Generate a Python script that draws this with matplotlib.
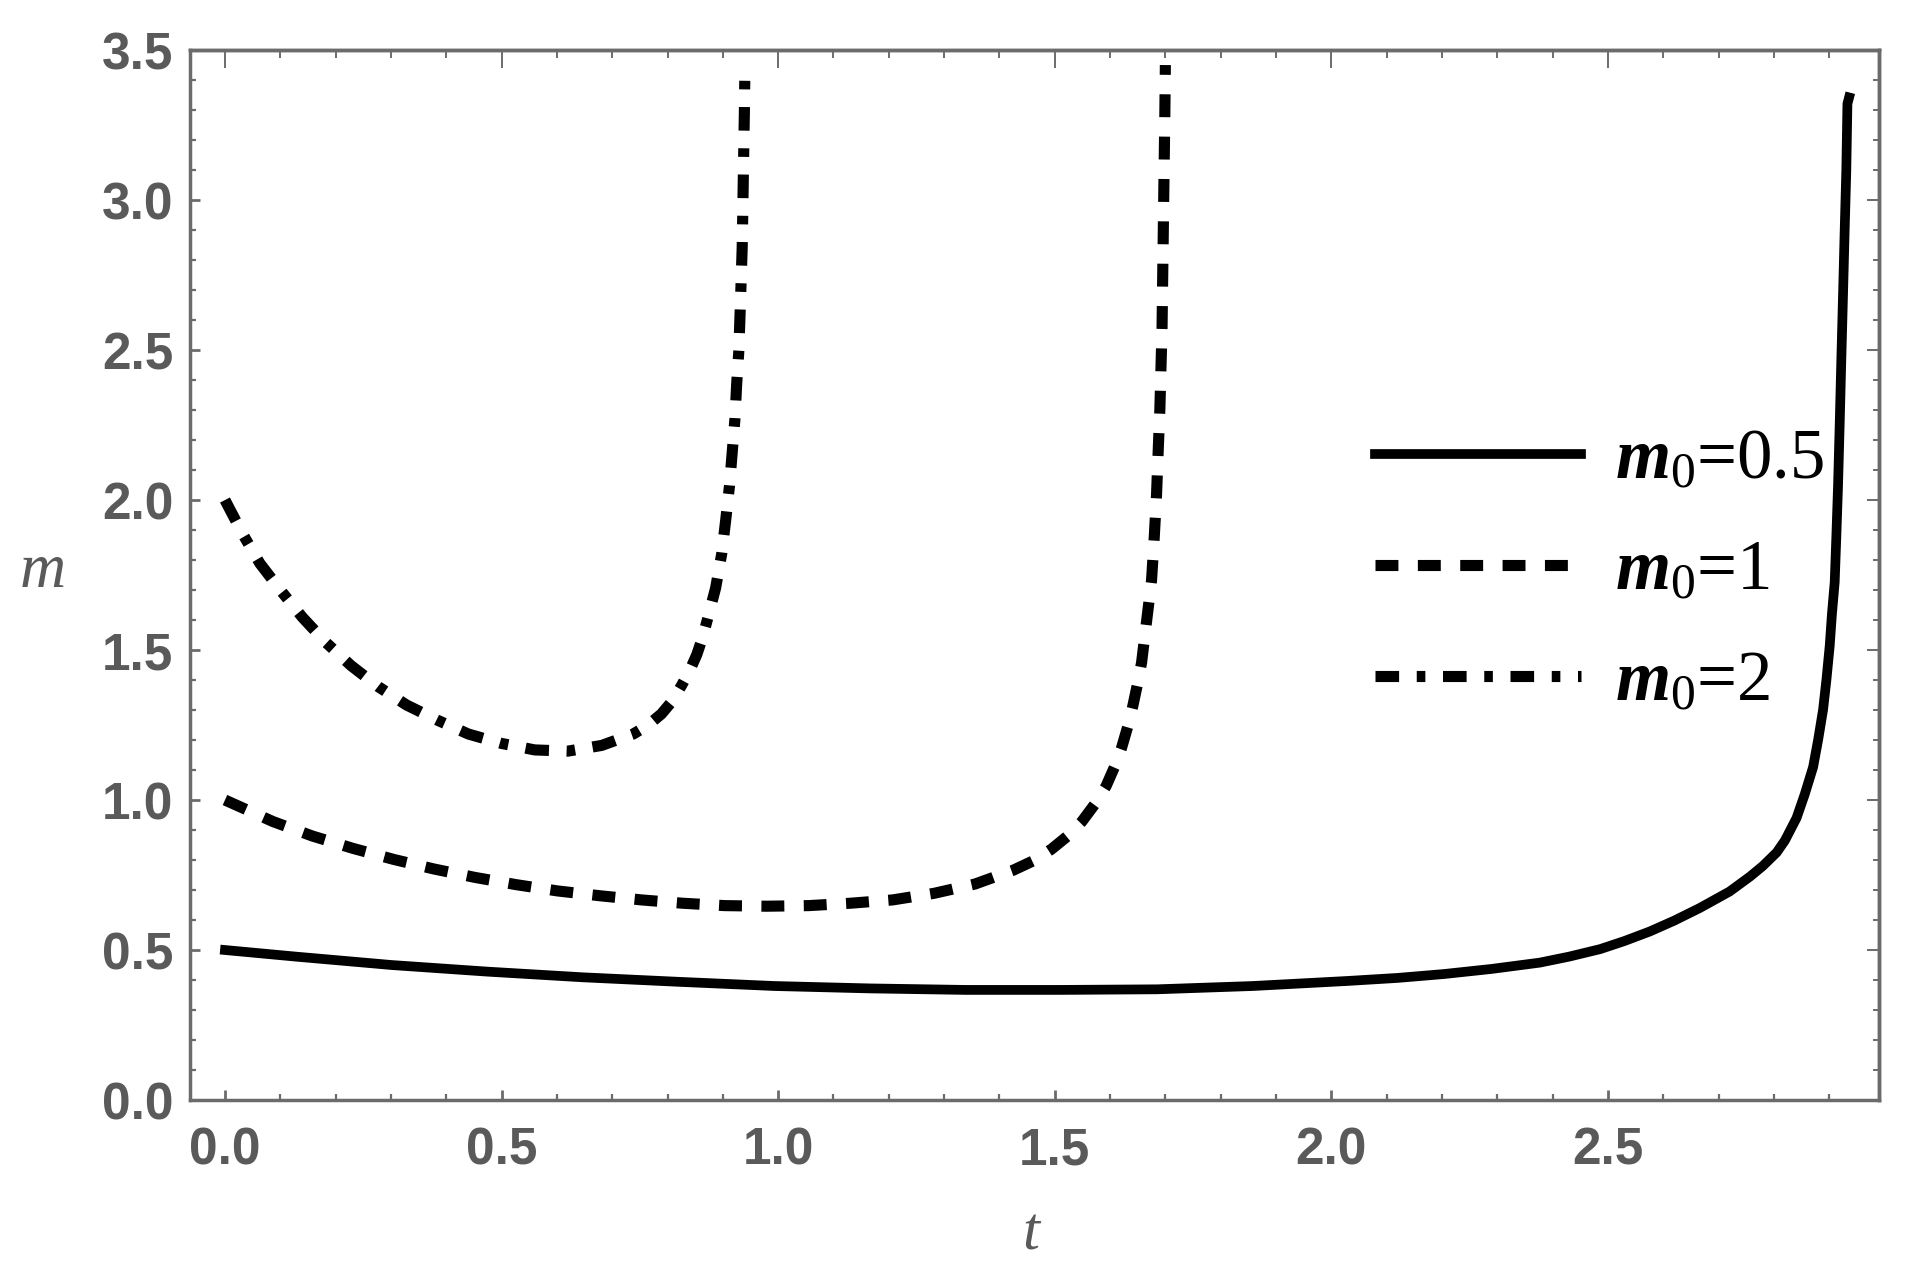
import matplotlib
matplotlib.use("Agg")
import matplotlib.pyplot as plt
from matplotlib.ticker import MultipleLocator, FormatStrFormatter

# values
t_05 = [0.0, 0.128, 0.301, 0.474, 0.647, 0.820, 0.993, 1.166, 1.339, 1.512,
        1.685, 1.858, 2.031, 2.120, 2.204, 2.290, 2.377, 2.430, 2.486, 2.530,
        2.576, 2.620, 2.666, 2.720, 2.757, 2.780, 2.805, 2.820, 2.841, 2.856,
        2.871, 2.880, 2.889, 2.895, 2.901, 2.905, 2.910, 2.913, 2.916, 2.919,
        2.922, 2.925, 2.928, 2.931, 2.933, 2.936]
m_05 = [0.50, 0.478, 0.450, 0.428, 0.409, 0.394, 0.380, 0.372, 0.367, 0.367,
        0.369, 0.380, 0.397, 0.407, 0.420, 0.437, 0.458, 0.478, 0.503, 0.530,
        0.562, 0.598, 0.640, 0.695, 0.745, 0.780, 0.825, 0.865, 0.940, 1.020,
        1.110, 1.200, 1.301, 1.400, 1.514, 1.620, 1.726, 1.880, 2.045, 2.250,
        2.470, 2.680, 2.896, 3.100, 3.321, 3.342]

t_1 = [0.0, 0.087, 0.158, 0.231, 0.305, 0.378, 0.452, 0.526, 0.601, 0.677,
       0.753, 0.827, 0.903, 0.979, 1.055, 1.131, 1.207, 1.282, 1.356, 1.425,
       1.462, 1.494, 1.522, 1.549, 1.572, 1.593, 1.608, 1.621, 1.632, 1.641,
       1.650, 1.657, 1.666, 1.675, 1.680, 1.684, 1.687, 1.690, 1.692, 1.694,
       1.695, 1.696, 1.697, 1.698, 1.699, 1.700]
m_1 = [1.0, 0.928, 0.880, 0.839, 0.802, 0.770, 0.742, 0.718, 0.697, 0.681,
       0.667, 0.656, 0.648, 0.646, 0.648, 0.656, 0.667, 0.689, 0.720, 0.766,
       0.798, 0.836, 0.878, 0.928, 0.985, 1.047, 1.110, 1.175, 1.245, 1.312,
       1.390, 1.458, 1.595, 1.732, 1.879, 2.016, 2.162, 2.299, 2.436, 2.573,
       2.720, 2.857, 3.003, 3.140, 3.277, 3.450]

t_2 = [0.0, 0.032, 0.063, 0.101, 0.140, 0.182, 0.228, 0.277, 0.328, 0.383,
       0.440, 0.499, 0.560, 0.620, 0.681, 0.738, 0.765, 0.789, 0.810, 0.826,
       0.841, 0.853, 0.863, 0.871, 0.887, 0.898, 0.905, 0.912, 0.917, 0.922,
       0.925, 0.929, 0.931, 0.933, 0.935, 0.936, 0.937, 0.938, 0.939, 0.940]
m_2 = [2.0, 1.887, 1.789, 1.698, 1.609, 1.526, 1.448, 1.378, 1.317, 1.267,
       1.220, 1.189, 1.167, 1.163, 1.182, 1.220, 1.250, 1.287, 1.333, 1.384,
       1.435, 1.485, 1.540, 1.594, 1.707, 1.821, 1.930, 2.047, 2.160, 2.273,
       2.386, 2.499, 2.612, 2.725, 2.842, 2.952, 3.073, 3.186, 3.299, 3.450]

labels = [r'$m_0$=0.5', r'$m_0$=1', r'$m_0$=2']

plt.rcParams['mathtext.fontset'] = 'custom'
plt.rcParams['mathtext.it'] = 'Liberation Serif:italic:bold'
plt.rcParams['mathtext.rm'] = 'Liberation Serif'
plt.rcParams['lines.scale_dashes'] = False

frame_col = '#6b6b6b'
text_col = '#5a5a5a'

fig = plt.figure(figsize=(19.13, 12.77), dpi=100)
ax = fig.add_axes([0.0993, 0.1386, 0.8829, 0.8222])

ax.plot(t_05, m_05, color='black', lw=7, solid_joinstyle='round', label=labels[0])
ax.plot(t_1, m_1, color='black', lw=8, dashes=(16.5, 14), dash_capstyle='butt',
        label=labels[1])
ax.plot(t_2, m_2, color='black', lw=8, dashes=(17, 12.7, 6.2, 12.7),
        dash_capstyle='butt', label=labels[2])

ax.set_xlim(-0.0633, 2.990)
ax.set_ylim(0, 3.5)

for sp in ax.spines.values():
    sp.set_color(frame_col)
    sp.set_linewidth(2.5)

ax.xaxis.set_major_locator(MultipleLocator(0.5))
ax.xaxis.set_minor_locator(MultipleLocator(0.1))
ax.yaxis.set_major_locator(MultipleLocator(0.5))
ax.yaxis.set_minor_locator(MultipleLocator(0.1))
ax.xaxis.set_major_formatter(FormatStrFormatter('%.1f'))
ax.yaxis.set_major_formatter(FormatStrFormatter('%.1f'))

ax.tick_params(which='both', direction='in', color=frame_col, labelcolor=text_col,
               labelsize=37, width=2)
ax.tick_params(which='major', length=7.5)
ax.tick_params(which='minor', length=4.5, width=1.6)
ax.tick_params(axis='x', pad=19)
ax.tick_params(axis='y', pad=12)
for lab in ax.get_xticklabels() + ax.get_yticklabels():
    lab.set_family('Liberation Sans')
    lab.set_weight('bold')

# top and right frame ticks (longer on top, as in the original)
secx = ax.secondary_xaxis('top')
secx.xaxis.set_major_locator(MultipleLocator(0.5))
secx.xaxis.set_minor_locator(MultipleLocator(0.1))
secx.tick_params(which='both', direction='in', color=frame_col, labeltop=False, width=1.4)
secx.tick_params(which='major', length=13)
secx.tick_params(which='minor', length=6)
secx.spines['top'].set_color(frame_col)
secx.spines['top'].set_linewidth(2.5)

secy = ax.secondary_yaxis('right')
secy.yaxis.set_major_locator(MultipleLocator(0.5))
secy.yaxis.set_minor_locator(MultipleLocator(0.1))
secy.tick_params(which='both', direction='in', color=frame_col, labelright=False, width=1.4)
secy.tick_params(which='major', length=8.5)
secy.tick_params(which='minor', length=4)
secy.spines['right'].set_color(frame_col)
secy.spines['right'].set_linewidth(2.5)

ax.set_xlabel('t', family='Liberation Serif', style='italic', fontsize=44, color=text_col,
              va='center')
ax.set_ylabel('m', family='Liberation Serif', style='italic', fontsize=46, color=text_col,
              rotation=0, ha='center', va='center')
ax.xaxis.set_label_coords(0.4979, -0.128)
ax.yaxis.set_label_coords(-0.087, 0.503)

ax.legend(loc='center left', bbox_to_anchor=(0.7016, 0.503), frameon=False,
          prop={'family': 'Liberation Serif', 'size': 51},
          handlelength=2.91, handletextpad=0.48, labelspacing=0.65,
          borderpad=0, borderaxespad=0)

fig.savefig('out.png', dpi=100)
